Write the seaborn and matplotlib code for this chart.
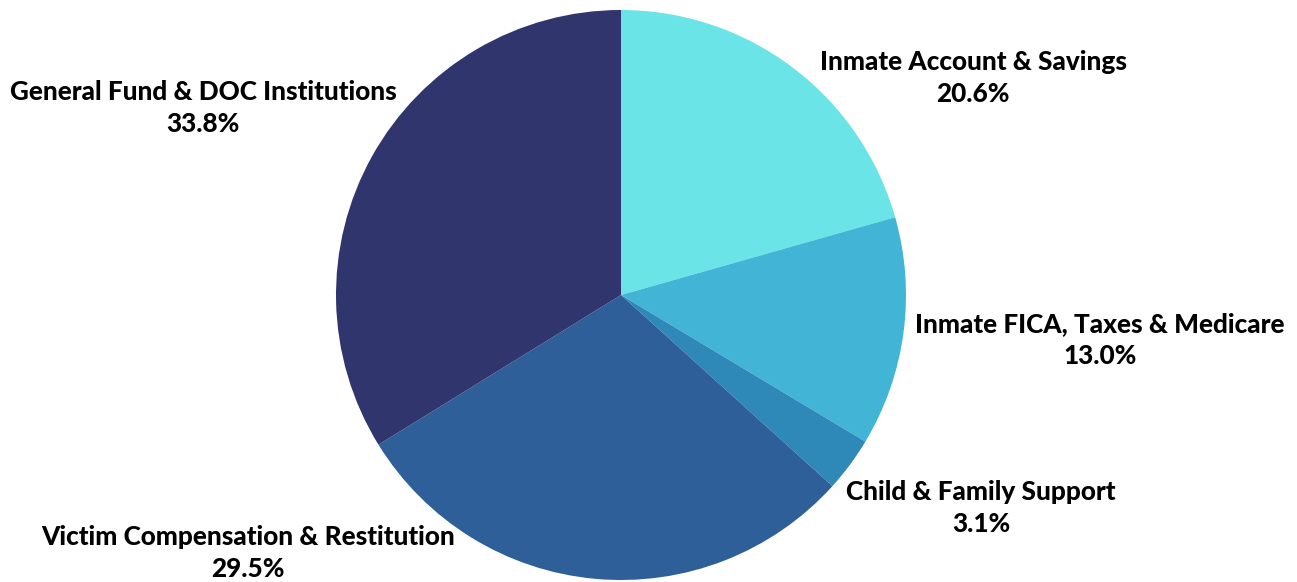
import matplotlib
matplotlib.use("Agg")
import matplotlib.pyplot as plt
import seaborn as sns

categories = ["Inmate Account & Savings", "Inmate FICA, Taxes & Medicare",
              "Child & Family Support", "Victim Compensation & Restitution",
              "General Fund & DOC Institutions"]
values = [20.6, 13.0, 3.1, 29.5, 33.8]
colors_hex = ["#6be4e8", "#42b5d6", "#2e88b8", "#2e5f98", "#31356d"]

sns.set_theme(style="white")
plt.rcParams['font.family'] = ['Lato', 'DejaVu Sans']

palette = sns.color_palette(colors_hex)

W, H = 1297, 582
fig = plt.figure(figsize=(W / 100, H / 100), dpi=100)
cx, cy, r = 621, 295, 285
ax = fig.add_axes([(cx - r) / W, (H - cy - r) / H, 2 * r / W, 2 * r / H])
ax.pie(values, colors=palette, startangle=90, counterclock=False, radius=1,
       wedgeprops=dict(linewidth=0))
ax.set_xlim(-1, 1)
ax.set_ylim(-1, 1)
ax.set_aspect("equal")
ax.axis("off")

# label block centres in pixel coords
label_pos = [(973, 78), (1100, 340), (981, 508), (248, 553), (203, 108)]
for cat, val, (px, py) in zip(categories, values, label_pos):
    fig.text(px / W, 1 - py / H, f"{cat}\n{val:.1f}%", ha="center", va="center",
             fontsize=18.8, fontweight="black", color="#000000", linespacing=1.4)

fig.savefig("out.png", dpi=100)
